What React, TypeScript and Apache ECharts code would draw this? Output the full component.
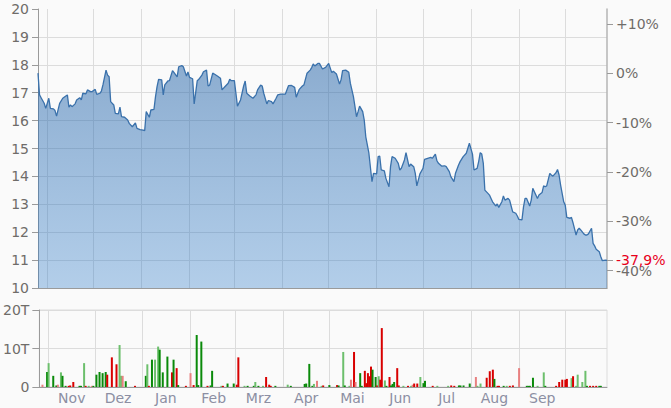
import React, { useEffect, useRef } from "react";
import * as echarts from "echarts";

// ---- Data ----
const START = Date.UTC(2023, 9, 26); // first day shown on the axis
const DAY = 86400000;
const END_DAY = 368;

// [day offset from START, closing price in EUR]
const priceData: [number, number][] = [
  [0,17.70],[1,16.92],[2,16.82],[4,16.62],[5,16.44],[7,16.80],[8,16.44],[10,16.42],[11,16.36],[12,16.16],
  [14,16.62],[16,16.80],[18,16.88],[19,16.92],[20,16.48],[21,16.56],[22,16.50],[24,16.60],[25,16.74],[27,16.82],
  [28,16.74],[29,16.98],[31,16.96],[32,17.10],[34,17.04],[35,17.04],[37,17.12],[38,16.94],[40,16.98],[41,17.06],
  [42,17.28],[44,17.81],[45,17.63],[46,17.57],[47,16.68],[49,16.56],[50,16.26],[52,16.24],[53,16.48],[54,16.14],
  [56,16.12],[58,16.02],[59,15.90],[61,15.78],[63,15.92],[64,15.72],[66,15.68],[68,15.66],[69,15.64],[70,16.32],
  [72,16.12],[73,16.38],[75,16.40],[76,16.86],[77,17.22],[78,17.48],[80,17.46],[81,16.92],[82,17.28],[84,17.42],
  [85,17.43],[87,17.79],[88,17.72],[90,17.57],[91,17.93],[93,17.97],[94,17.93],[96,17.60],[97,17.74],[98,17.55],
  [100,17.50],[101,16.60],[103,17.43],[104,17.48],[106,17.63],[107,17.75],[109,17.81],[110,17.24],[111,17.27],[113,17.70],
  [114,17.67],[116,17.60],[118,17.52],[119,17.10],[121,17.22],[123,17.34],[124,17.48],[125,17.43],[127,17.43],[128,16.98],
  [129,16.52],[131,16.74],[133,17.24],[134,17.42],[135,16.98],[137,16.88],[139,16.80],[141,16.92],[142,17.10],[144,17.27],
  [145,17.24],[146,16.98],[148,16.60],[149,16.72],[151,16.68],[152,16.60],[154,16.80],[155,16.92],[157,16.95],[159,16.95],
  [160,16.95],[162,17.25],[164,17.26],[166,17.19],[167,16.84],[169,17.12],[171,17.24],
  [172,17.28],[174,17.70],[176,17.81],[177,17.90],[178,18.03],[179,17.96],[181,18.05],[182,18.05],[184,17.85],[186,17.91],
  [188,18.05],[190,17.72],[191,17.77],[193,17.67],[195,17.31],[196,17.46],[197,17.79],[199,17.81],[201,17.73],[202,17.34],
  [204,16.86],[206,16.14],[207,16.32],[208,16.52],[210,16.32],[211,16.02],[212,15.42],[214,14.83],[216,13.81],[217,14.11],
  [219,14.09],[220,14.71],[221,14.73],[222,14.23],[224,14.20],[225,13.93],[227,13.63],[228,14.35],[229,14.71],[231,14.65],
  [233,14.47],[234,14.23],[235,14.29],[237,14.59],[238,14.85],[240,14.35],[241,14.44],[243,14.35],[244,14.11],[245,13.66],[247,14.09],
  [249,14.29],[250,14.61],[252,14.65],[254,14.68],[255,14.65],[257,14.80],[258,14.56],[259,14.47],[261,14.37],[263,14.38],
  [264,14.35],[266,14.17],[267,13.99],[269,13.81],[270,14.11],[272,14.41],[273,14.53],[275,14.71],[277,14.83],[278,15.01],
  [279,15.19],[281,14.80],[282,14.23],[284,14.29],[285,14.53],[286,14.85],[287,14.80],[288,14.47],[289,13.51],[291,13.39],
  [292,13.33],[293,13.21],[294,13.09],[296,12.94],[297,13.01],[298,12.89],[300,13.09],[301,13.30],[302,13.15],[304,13.21],
  [305,13.15],[306,12.94],[307,12.73],[309,12.68],[310,12.58],[311,12.46],[313,12.44],[314,12.91],[315,13.21],[316,13.21],
  [318,12.94],[319,13.15],[320,13.57],[322,13.33],[323,13.21],[324,13.33],[326,13.42],[327,13.66],[328,13.63],[329,13.66],
  [331,14.11],[332,14.05],[333,14.01],[335,14.13],[336,14.25],[337,14.05],[338,13.69],[340,13.09],[341,12.97],[342,12.53],
  [344,12.50],[345,12.53],[346,12.34],[348,11.90],[349,12.08],[350,12.14],[351,12.08],[353,11.94],[354,11.90],[355,11.90],
  [356,11.94],[358,12.14],[359,11.60],[360,11.51],[361,11.39],[363,11.30],[364,11.12],[365,10.98],[367,11.00],[368,10.99],
];

// [day offset, volume in thousands (T), colour code]
const volumeData: [number, number, string][] = [
  [2,0.6,'r'],[5,3.9,'G'],[6,6.2,'g'],[9,2.9,'G'],[11,0.4,'G'],[12,0.6,'r'],[14,3.8,'g'],[15,2.9,'G'],[17,0.3,'G'],[19,0.3,'R'],
  [20,0.4,'R'],[22,1.3,'R'],[26,0.3,'G'],[27,0.3,'G'],[29,6.2,'g'],[30,0.3,'R'],[32,0.3,'g'],[34,0.3,'r'],[35,0.3,'G'],[37,3.2,'G'],
  [39,3.9,'G'],[41,3.6,'G'],[43,3.9,'G'],[44,3.2,'R'],[47,7.7,'R'],[50,5.9,'R'],[52,10.9,'g'],[53,2.9,'g'],[54,2.9,'r'],[56,1.5,'G'],
  [62,0.3,'R'],[69,2.9,'G'],[70,5.9,'g'],[71,0.3,'R'],[73,7.1,'G'],[75,7.1,'g'],[77,10.5,'g'],[78,9.7,'G'],[80,3.8,'G'],[83,7.9,'G'],
  [86,3.8,'R'],[87,7.1,'G'],[89,4.9,'R'],[90,0.5,'G'],[95,0.3,'R'],[98,3.6,'r'],[100,0.5,'R'],[102,13.5,'G'],[103,0.5,'G'],[105,11.8,'G'],
  [109,0.3,'R'],[111,0.4,'G'],[112,4.2,'G'],[118,0.3,'g'],[119,0.3,'R'],[122,0.9,'G'],[126,0.9,'G'],[128,0.6,'R'],[129,7.7,'R'],[133,0.3,'g'],
  [135,0.3,'G'],[139,0.3,'G'],[140,1.3,'g'],[142,0.3,'G'],[145,0.3,'g'],[147,2.6,'R'],[149,0.6,'R'],[150,0.3,'R'],[153,0.3,'G'],[161,0.6,'g'],
  [163,0.3,'G'],[172,0.8,'G'],[173,0.9,'G'],[175,6.0,'G'],[177,0.3,'G'],[178,0.8,'g'],[180,1.6,'r'],[183,0.3,'g'],[184,0.4,'R'],[188,0.5,'G'],
  [193,0.5,'R'],[194,0.4,'G'],[197,9.1,'g'],[198,0.4,'G'],[201,0.3,'g'],[202,1.9,'r'],[204,9.1,'R'],[205,1.3,'r'],[208,3.6,'G'],[209,0.3,'G'],
  [211,4.2,'R'],[212,1.0,'R'],[213,3.6,'R'],[214,2.8,'R'],[215,5.3,'R'],[216,4.5,'G'],[218,2.6,'G'],[219,0.4,'R'],[220,2.8,'g'],[221,1.9,'R'],
  [222,15.3,'R'],[224,1.7,'g'],[225,0.3,'G'],[227,2.6,'R'],[228,0.4,'G'],[229,0.8,'G'],[230,1.3,'G'],[232,4.9,'R'],[233,0.4,'R'],[236,0.3,'g'],
  [239,0.3,'R'],[241,0.3,'g'],[242,0.6,'r'],[243,0.9,'R'],[245,0.9,'R'],[247,2.6,'g'],[249,1.0,'G'],[250,1.6,'G'],[255,0.3,'R'],[258,0.3,'g'],
  [265,0.3,'g'],[267,0.4,'R'],[269,0.3,'R'],[272,0.4,'G'],[273,0.4,'G'],[275,0.4,'G'],[279,0.9,'G'],[283,2.6,'r'],[284,0.3,'g'],[286,0.9,'g'],
  [290,2.4,'R'],[292,4.1,'R'],[294,4.5,'R'],[295,2.1,'G'],[297,0.3,'R'],[298,0.3,'R'],[301,0.3,'G'],[303,0.3,'g'],[305,0.3,'R'],[307,0.4,'R'],
  [311,4.9,'r'],[316,0.3,'G'],[317,0.3,'G'],[318,0.3,'G'],[320,2.4,'G'],[323,0.3,'g'],[327,3.8,'g'],[328,0.3,'G'],[335,0.3,'R'],[337,1.3,'R'],
  [339,1.9,'R'],[341,1.9,'R'],[342,2.1,'R'],[345,2.3,'g'],[346,2.8,'R'],[348,0.3,'g'],[349,3.2,'g'],[352,1.3,'g'],[354,4.2,'g'],[355,0.3,'G'],
  [357,0.3,'R'],[359,0.3,'R'],[361,0.3,'R'],[363,0.3,'G'],[364,0.3,'G'],
];

const monthNames = ['Jan','Feb','Mrz','Apr','Mai','Jun','Jul','Aug','Sep','Okt','Nov','Dez'];
const pctTicks = [10, 0, -10, -20, -30, -40];
const priceMin = 10, priceMax = 20, priceStep = 1;
const volMax = 20, volStep = 10;

const volColors: Record<string, string> = {
  G: '#0a8a0a',
  g: '#6cbf6c',
  R: '#d80000',
  r: '#e88080',
};

export default function App() {
  const ref = useRef<HTMLDivElement>(null);

  useEffect(() => {
    if (!ref.current) return;
    const chart = echarts.init(ref.current, undefined, { renderer: 'svg' });

    const minT = START;
    const maxT = START + END_DAY * DAY;
    const monthStarts: number[] = [];
    for (let i = 0; i < 12; i++) monthStarts.push(Date.UTC(2023, 10 + i, 1));
    const monthMids: number[] = [];
    for (let i = 0; i < 11; i++) monthMids.push(Date.UTC(2023, 10 + i, 16));

    const base = priceData[0][1];
    const last = priceData[priceData.length - 1][1];
    const pctValues = pctTicks.map((p) => base * (1 + p / 100));
    const lastPctText = ((last / base - 1) * 100).toFixed(1).replace('.', ',') + '%';

    const labelColor = '#6f6c69';
    const axisColor = '#9a9a9a';
    const gridColor = '#dcdcdc';
    const font = 'DejaVu Sans';

    chart.setOption({
      animation: false,
      backgroundColor: '#fafafa',
      textStyle: { fontFamily: font },
      grid: [
        { left: 38, right: 64, top: 9, height: 279 },
        { left: 38, right: 64, top: 310, height: 77, show: true, borderColor: gridColor, borderWidth: 1, backgroundColor: 'transparent' },
      ],
      xAxis: [
        {
          type: 'value', gridIndex: 0, min: minT, max: maxT, scale: true,
          axisLine: { show: true, onZero: false, lineStyle: { color: axisColor } },
          axisTick: { show: false, customValues: monthStarts },
          axisLabel: { show: false },
          splitLine: { show: true, lineStyle: { color: gridColor } },
        },
        {
          type: 'value', gridIndex: 1, min: minT, max: maxT, scale: true,
          axisLine: { show: true, onZero: false, lineStyle: { color: axisColor } },
          axisTick: { show: false, customValues: monthStarts },
          axisLabel: {
            customValues: monthMids,
            formatter: (v: number) => monthNames[new Date(v).getUTCMonth()],
            color: '#8c8fa3', fontSize: 14, margin: 4, fontFamily: font,
          },
          splitLine: { show: true, lineStyle: { color: gridColor } },
        },
      ],
      yAxis: [
        {
          type: 'value', gridIndex: 0, position: 'left', min: priceMin, max: priceMax, interval: priceStep,
          axisLine: { show: true, lineStyle: { color: axisColor } },
          axisTick: { show: true, length: 6, lineStyle: { color: axisColor } },
          axisLabel: { color: labelColor, fontSize: 14, margin: 9, fontFamily: font },
          splitLine: { show: true, showMaxLine: false, lineStyle: { color: gridColor } },
        },
        {
          type: 'value', gridIndex: 0, position: 'right', min: priceMin, max: priceMax,
          axisLine: { show: true, lineStyle: { color: '#b5b5b5', width: 1.5 } },
          axisTick: { show: true, length: 6, customValues: [...pctValues, last], lineStyle: { color: axisColor } },
          axisLabel: {
            customValues: pctValues,
            color: labelColor, fontSize: 14, margin: 9, fontFamily: font,
            formatter: (v: number) => {
              const r = Math.round((v / base - 1) * 100);
              return (r > 0 ? '+' : '') + r + '%';
            },
          },
          splitLine: { show: false },
        },
        {
          type: 'value', gridIndex: 1, min: 0, max: volMax, interval: volStep,
          axisLine: { show: true, lineStyle: { color: axisColor } },
          axisTick: { show: true, length: 7, lineStyle: { color: axisColor } },
          axisLabel: {
            color: labelColor, fontSize: 14, margin: 10, fontFamily: font,
            formatter: (v: number) => (v === 0 ? '0' : v + 'T'),
          },
          splitLine: { show: true, lineStyle: { color: gridColor } },
        },
      ],
      series: [
        {
          type: 'line', xAxisIndex: 0, yAxisIndex: 0,
          data: priceData.map(([d, v]) => [START + d * DAY, v]),
          showSymbol: false, symbol: 'none',
          lineStyle: { color: '#3a71ab', width: 1.3 },
          itemStyle: { color: '#3a71ab' },
          areaStyle: {
            opacity: 1,
            color: new echarts.graphic.LinearGradient(0, 0, 0, 1, [
              { offset: 0, color: 'rgba(30,95,165,0.50)' },
              { offset: 1, color: 'rgba(40,120,200,0.34)' },
            ]),
          },
          markLine: {
            silent: true,
            symbol: 'none',
            lineStyle: { color: 'rgba(0,0,0,0)', width: 0, opacity: 1 },
            label: {
              show: true, position: 'end', distance: 9,
              formatter: lastPctText,
              color: '#e8001c', fontSize: 14, fontFamily: font, opacity: 1,
            },
            data: [{ yAxis: last }],
          },
        },
        {
          type: 'bar', xAxisIndex: 1, yAxisIndex: 2, barWidth: 2,
          data: volumeData.map(([d, v, c]) => ({
            value: [START + d * DAY, v],
            itemStyle: { color: volColors[c] },
          })),
        },
      ],
    });

    return () => chart.dispose();
  }, []);

  return (
    <div
      ref={ref}
      style={{ position: 'absolute', left: 0, top: 0, width: 671, height: 408, background: '#fafafa' }}
    />
  );
}
